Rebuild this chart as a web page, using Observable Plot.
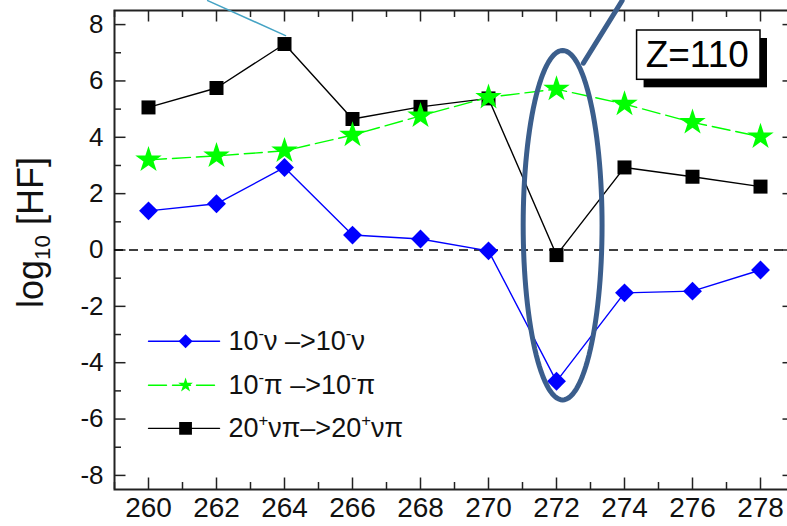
<!DOCTYPE html>
<html>
<head>
<meta charset="utf-8">
<script src="https://cdn.jsdelivr.net/npm/d3@7"></script>
<script src="https://cdn.jsdelivr.net/npm/@observablehq/plot@0.6"></script>
<style>
  html, body { margin: 0; padding: 0; background: #fff; overflow: hidden; }
  #chart { width: 787px; height: 526px; overflow: hidden; }
  #chart svg { max-width: none !important; }
</style>
</head>
<body>
<div id="chart"></div>
<script>
// Mass numbers (A) of the Z = 110 isotopes
const masses = [260, 262, 264, 266, 268, 270, 272, 274, 276, 278];

// log10 of the hindrance factor for each configuration
const nuValues   = [1.39, 1.64, 2.93, 0.53, 0.39, -0.03, -4.66, -1.52, -1.46, -0.71];
const piValues   = [3.20, 3.34, 3.52, 4.08, 4.76, 5.42, 5.71, 5.18, 4.53, 4.02];
const nuPiValues = [5.06, 5.75, 7.31, 4.65, 5.08, 5.38, -0.18, 2.93, 2.60, 2.25];

// Legend entries (^ marks a one-character superscript)
const seriesNames  = ["10^-ν –>10^-ν", "10^-π –>10^-π", "20^+νπ–>20^+νπ"];
const seriesColors = ["#0000ff", "#00ff00", "#000000"];
const seriesSymbols = ["diamond2", "star", "square"];

// Tick labels
const xTickLabels = [260, 262, 264, 266, 268, 270, 272, 274, 276, 278];
const yTickLabels = [-8, -6, -4, -2, 0, 2, 4, 6, 8];
const xMinorTicks = d3.range(259, 280);
const yMinorTicks = d3.range(-8, 9);

const axisTitle = "log_{10} [HF]";
const boxLabel = "Z=110";

// layout
const width = 800, height = 526;
const margin = {top: 10, right: 6, bottom: 37, left: 114};
const xDomain = [259, 279], yDomain = [-8.5, 8.5];
const pxPerX = (width - margin.left - margin.right) / (xDomain[1] - xDomain[0]);
const pxPerY = (height - margin.top - margin.bottom) / (yDomain[1] - yDomain[0]);

const rows = (values, k) => masses.map((m, i) => ({x: m, y: values[i], k}));
const nuRows = rows(nuValues, 0);
const piRows = rows(piValues, 1);
const nuPiRows = rows(nuPiValues, 2);

// Legend placement (data units)
const legendX = [260.0, 261.09, 262.09, 262.35]; // line start, symbol, line end, text
const legendY = [-3.24, -4.80, -6.33];
const legendRows = seriesNames.map((name, k) => ({name, k, y: legendY[k]}));

// Annotations: highlight ellipse around A = 272, pointer lines, Z label box
const ellipse = {cx: 272.18, cy: 0.88, rx: 1.16, ry: 6.2};
const ellipsePts = d3.range(0, 361, 3).map(a => {
  const t = a * Math.PI / 180;
  return {x: ellipse.cx + ellipse.rx * Math.cos(t), y: ellipse.cy + ellipse.ry * Math.sin(t)};
});
const pointerA = [{x: 261.74, y: 8.85}, {x: 264.03, y: 7.61}];
const pointerB = [{x: 272.79, y: 6.63}, {x: 273.93, y: 8.85}];
const zBox = [{x1: 274.37, x2: 278.0, y1: 6.04, y2: 7.79}];
const zText = [{x: 276.14, y: 6.90, label: boxLabel}];

const tickLen = (major, px) => (major ? 11.5 : 7) / px;

const lineStyle = [
  {stroke: seriesColors[0], strokeWidth: 1.4},
  {stroke: seriesColors[1], strokeWidth: 1.4, strokeDasharray: "18,6"},
  {stroke: seriesColors[2], strokeWidth: 1.4}
];
const dotR = [8.5, 8.3, 7.9];
const legendDotR = [6.3, 4.6, 7.2];

const chart = Plot.plot({
  width, height,
  marginTop: margin.top, marginRight: margin.right,
  marginBottom: margin.bottom, marginLeft: margin.left,
  style: {fontFamily: "'Liberation Sans', Arial, sans-serif", background: "#fff", color: "#111", maxWidth: "none"},
  x: {domain: xDomain},
  y: {domain: yDomain},
  marks: [
    // inward ticks on all four sides
    Plot.ruleX(xMinorTicks, {x: d => d, y1: yDomain[0], y2: d => yDomain[0] + tickLen(d % 2 === 0, pxPerY), stroke: "#222", strokeWidth: 1.5}),
    Plot.ruleX(xMinorTicks, {x: d => d, y1: yDomain[1], y2: d => yDomain[1] - tickLen(d % 2 === 0, pxPerY), stroke: "#222", strokeWidth: 1.5}),
    Plot.ruleY(yMinorTicks, {y: d => d, x1: xDomain[0], x2: d => xDomain[0] + tickLen(d % 2 === 0, pxPerX), stroke: "#222", strokeWidth: 1.5}),
    Plot.ruleY(yMinorTicks, {y: d => d, x1: xDomain[1], x2: d => xDomain[1] - tickLen(d % 2 === 0, pxPerX), stroke: "#222", strokeWidth: 1.5}),
    Plot.frame({stroke: "#222", strokeWidth: 2}),
    // zero reference
    Plot.ruleY([0], {stroke: "#000", strokeWidth: 1.5, strokeDasharray: "9,6"}),

    // series: 20+ νπ, 10- π, 10- ν
    Plot.line(nuPiRows, {x: "x", y: "y", ...lineStyle[2]}),
    Plot.dot(nuPiRows, {x: "x", y: "y", symbol: seriesSymbols[2], r: dotR[2], fill: seriesColors[2]}),
    Plot.line(piRows, {x: "x", y: "y", ...lineStyle[1]}),
    Plot.dot(piRows, {x: "x", y: "y", symbol: seriesSymbols[1], r: dotR[1], fill: seriesColors[1]}),
    Plot.line(nuRows, {x: "x", y: "y", ...lineStyle[0]}),
    Plot.dot(nuRows, {x: "x", y: "y", symbol: seriesSymbols[0], r: dotR[0], fill: seriesColors[0]}),

    // legend
    ...legendRows.flatMap(({k, y}) => [
      Plot.line([{x: legendX[0], y}, {x: legendX[2], y}], {x: "x", y: "y", ...lineStyle[k]}),
      Plot.dot([{x: legendX[1], y}], {x: "x", y: "y", symbol: seriesSymbols[k], r: legendDotR[k], fill: seriesColors[k]})
    ]),
    Plot.text(legendRows, {x: legendX[3], y: "y", text: "name", textAnchor: "start", lineAnchor: "middle", fontSize: 27, fill: "#111"}),

    // annotations
    Plot.line(pointerA, {x: "x", y: "y", stroke: "#45a3c4", strokeWidth: 1.5}),
    Plot.line(ellipsePts, {x: "x", y: "y", stroke: "#3b5e8c", strokeWidth: 5}),
    Plot.line(pointerB, {x: "x", y: "y", stroke: "#3b5e8c", strokeWidth: 5}),
    Plot.rect(zBox, {x1: "x1", x2: "x2", y1: "y1", y2: "y2", fill: "#000", dx: 7, dy: 8}),
    Plot.rect(zBox, {x1: "x1", x2: "x2", y1: "y1", y2: "y2", fill: "#fff", stroke: "#000", strokeWidth: 1.5}),
    Plot.text(zText, {x: "x", y: "y", text: "label", fontSize: 37, lineAnchor: "middle", fill: "#000"}),

    // axes
    Plot.axisX({ticks: xTickLabels, tickSize: 0, tickPadding: 8, fontSize: 28, label: null, tickFormat: d => String(d)}),
    Plot.axisY({ticks: yTickLabels, tickSize: 0, tickPadding: 11, fontSize: 26, label: null, tickFormat: d => String(d)}),
    Plot.text([axisTitle], {x: 256.57, y: 0.62, text: d => d, rotate: -90, fontSize: 36, lineAnchor: "middle", fill: "#111"})
  ]
});

chart.style.maxWidth = "none";
document.getElementById("chart").appendChild(chart);

// Rich text: ^x → superscript, _{..} → subscript
d3.select(chart).selectAll("text").each(function () {
  const s = this.textContent;
  if (!/[\^_]/.test(s)) return;
  const fs = parseFloat(getComputedStyle(this).fontSize) || 16;
  const parts = [];
  const re = /(\^|_)(\{[^}]*\}|.)/g;
  let last = 0, m;
  while ((m = re.exec(s))) {
    if (m.index > last) parts.push({t: s.slice(last, m.index)});
    const body = m[2].startsWith("{") ? m[2].slice(1, -1) : m[2];
    parts.push({t: body, mode: m[1]});
    last = re.lastIndex;
  }
  if (last < s.length) parts.push({t: s.slice(last)});
  const el = d3.select(this);
  el.text(null);
  for (const p of parts) {
    const ts = el.append("tspan").text(p.t);
    if (p.mode === "^") ts.attr("font-size", fs * 0.62).attr("baseline-shift", fs * 0.42);
    if (p.mode === "_") ts.attr("font-size", fs * 0.62).attr("baseline-shift", -fs * 0.2);
  }
});
</script>
</body>
</html>
